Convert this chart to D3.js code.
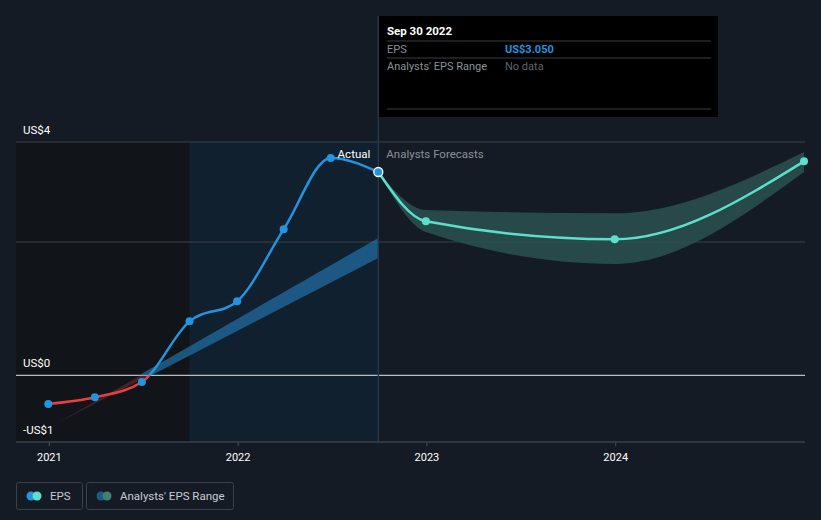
<!DOCTYPE html>
<html><head><meta charset="utf-8">
<script src="https://cdn.jsdelivr.net/npm/d3@7"></script>
<style>
html,body{margin:0;padding:0;background:#151b24;}
svg{display:block;font-family:Roboto,"Noto Sans",sans-serif;}
</style></head><body>
<svg id="chart" width="821" height="520"></svg>
<script>
// ---- data ----
const actualDates = ["2020-12-31","2021-03-31","2021-06-30","2021-09-30","2021-12-31","2022-03-31","2022-06-30","2022-09-30"];
const actualEPS   = [-0.43, -0.33, -0.10, 0.81, 1.11, 2.19, 3.26, 3.05];
const forecastDates = ["2022-09-30","2022-12-31","2023-12-31","2024-12-31"];
const forecastEPS   = [3.05, 2.31, 2.04, 3.21];
const forecastLow   = [3.05, 2.15, 1.67, 3.05];
const forecastHigh  = [3.05, 2.48, 2.43, 3.35];
const pastRangeDates = ["2020-12-31","2022-09-30"];
const pastRangeLow   = [-0.80, 1.76];
const pastRangeHigh  = [-0.78, 2.06];
const xTickYears = [2021, 2022, 2023, 2024];
const yTickValues = [3.5, 0, -1];
const yTickLabels = ["US$4", "US$0", "-US$1"];
const yGridValues = [3.5, 2, -1];

const parse = d3.timeParse("%Y-%m-%d");
const svg = d3.select("#chart");
const x = d3.scaleTime().domain([parse("2020-12-31"), parse("2024-12-31")]).range([48.3, 804]);
const y = d3.scaleLinear().domain([-1, 3.5]).range([442, 142]);
const L = 16, R = 805;

const actual = actualDates.map((d,i)=>({d:parse(d), v:actualEPS[i]}));
const fc = forecastDates.map((d,i)=>({d:parse(d), v:forecastEPS[i], lo:forecastLow[i], hi:forecastHigh[i]}));
const past = pastRangeDates.map((d,i)=>({d:parse(d), lo:pastRangeLow[i], hi:pastRangeHigh[i]}));

const defs = svg.append("defs");
const xSplit1 = x(parse("2021-09-30")), xNow = x(parse("2022-09-30"));

// shaded regions
svg.append("rect").attr("x",L).attr("y",y(3.5)).attr("width",xSplit1-L).attr("height",y(-1)-y(3.5)).attr("fill","#111419");
svg.append("rect").attr("x",xSplit1).attr("y",y(3.5)).attr("width",xNow-xSplit1).attr("height",y(-1)-y(3.5)).attr("fill","#10202f");

// gridlines
svg.selectAll(".grid").data(yGridValues).enter().append("line")
  .attr("x1",L).attr("x2",R).attr("y1",d=>y(d)).attr("y2",d=>y(d))
  .attr("stroke","#3a404a").attr("stroke-width",1);
svg.append("line").attr("x1",L).attr("x2",R).attr("y1",y(0)).attr("y2",y(0)).attr("stroke","#b8bcc2").attr("stroke-width",1.2);

// clip paths
defs.append("clipPath").attr("id","above").append("rect").attr("x",0).attr("y",0).attr("width",821).attr("height",y(0));
defs.append("clipPath").attr("id","below").append("rect").attr("x",0).attr("y",y(0)).attr("width",821).attr("height",520-y(0));
const rg = defs.append("linearGradient").attr("id","redfade").attr("x1","0").attr("x2","1").attr("y1","0").attr("y2","0");
rg.append("stop").attr("offset","0").attr("stop-color","#e84a4a").attr("stop-opacity",0.05);
rg.append("stop").attr("offset","1").attr("stop-color","#e84a4a").attr("stop-opacity",0.45);

// past analyst range wedge
const pastArea = d3.area().x(d=>x(d.d)).y0(d=>y(d.lo)).y1(d=>y(d.hi));
svg.append("path").datum(past).attr("d",pastArea).attr("fill","#2470a8").attr("opacity",0.7).attr("clip-path","url(#above)");
const redG = svg.append("g").attr("clip-path","url(#below)");
redG.append("path").datum(past).attr("d",d3.area().x(d=>x(d.d)).y0(d=>y(d.lo)-1).y1(d=>y(d.hi)+1)).attr("fill","url(#redfade)")
  .attr("transform",null);
redG.select("path").attr("fill","#e84a4a").attr("opacity",0.25);

// forecast range
const fArea = d3.area().x(d=>x(d.d)).y0(d=>y(d.lo)).y1(d=>y(d.hi)).curve(d3.curveMonotoneX);
svg.append("path").datum(fc).attr("d",fArea).attr("fill","#2c5150").attr("opacity",0.85);

// vertical now line
svg.append("line").attr("x1",xNow).attr("x2",xNow).attr("y1",16).attr("y2",442).attr("stroke","#24374a").attr("stroke-width",1.5);

// EPS actual line
const line = d3.line().x(d=>x(d.d)).y(d=>y(d.v)).curve(d3.curveMonotoneX);
svg.append("path").datum(actual).attr("d",line).attr("fill","none").attr("stroke","#2394df").attr("stroke-width",2.5).attr("clip-path","url(#above)");
svg.append("path").datum(actual).attr("d",line).attr("fill","none").attr("stroke","#e8403f").attr("stroke-width",2.5).attr("clip-path","url(#below)");

// forecast line
svg.append("path").datum(fc).attr("d",line).attr("fill","none").attr("stroke","#5ce0cb").attr("stroke-width",2.5);

// points
svg.selectAll(".ap").data(actual.slice(0,-1)).enter().append("circle")
  .attr("cx",d=>x(d.d)).attr("cy",d=>y(d.v)).attr("r",4).attr("fill","#2394df");
svg.selectAll(".fp").data(fc.slice(1)).enter().append("circle")
  .attr("cx",d=>x(d.d)).attr("cy",d=>y(d.v)).attr("r",4).attr("fill","#5ce0cb");
const last = actual[actual.length-1];
svg.append("circle").attr("cx",x(last.d)).attr("cy",y(last.v)).attr("r",4.5).attr("fill","#2394df").attr("stroke","#ffffff").attr("stroke-width",1.3);

// labels Actual / Analysts Forecasts
svg.append("text").attr("x",xNow-8).attr("y",158).attr("text-anchor","end").attr("fill","#ffffff").attr("font-size",11.5).text("Actual");
svg.append("text").attr("x",xNow+8).attr("y",158).attr("fill","#8a9099").attr("font-size",11.5).text("Analysts Forecasts");

// y labels
svg.selectAll(".yl").data(yTickValues).enter().append("text")
  .attr("x",23).attr("y",d=>y(d)-8).attr("fill","#ffffff").attr("font-size",11.5)
  .text((d,i)=>yTickLabels[i]);

// x axis
const xAxis = d3.axisBottom(x).tickValues(xTickYears.map(yv=>new Date(yv,0,1))).tickFormat(d3.timeFormat("%Y")).tickSize(4).tickSizeOuter(0);
const gx = svg.append("g").attr("transform",`translate(0,${y(-1)})`).call(xAxis);
gx.select(".domain").remove();
gx.selectAll(".tick line").attr("stroke","#4a505a");
gx.selectAll(".tick text").attr("fill","#ffffff").attr("font-size",11).attr("dy","1.1em").attr("font-family","Roboto,sans-serif");
svg.append("line").attr("x1",L).attr("x2",R).attr("y1",y(-1)).attr("y2",y(-1)).attr("stroke","#3a404a");

// tooltip
const tt = svg.append("g").attr("transform","translate(379,16)");
tt.append("rect").attr("width",339).attr("height",101).attr("fill","#000000");
tt.append("text").attr("x",8).attr("y",19).attr("fill","#ffffff").attr("font-size",11.5).attr("font-weight","bold").text("Sep 30 2022");
[25,42,93].forEach(yy=>tt.append("line").attr("x1",8).attr("x2",332).attr("y1",yy).attr("y2",yy).attr("stroke","#3a3d42"));
tt.append("text").attr("x",8).attr("y",37).attr("fill","#8a9099").attr("font-size",11).text("EPS");
tt.append("text").attr("x",126).attr("y",37).attr("fill","#2394df").attr("font-size",11).attr("font-weight","bold").text("US$3.050");
tt.append("text").attr("x",8).attr("y",54).attr("fill","#8a9099").attr("font-size",11).text("Analysts' EPS Range");
tt.append("text").attr("x",126).attr("y",54).attr("fill","#5d636b").attr("font-size",11).text("No data");

// legend
const lg = svg.append("g");
const items = [{x:16,w:66,label:"EPS",c1:"#2394df",c2:"#5ce0cb"},{x:86,w:147,label:"Analysts' EPS Range",c1:"#1f5a85",c2:"#3c8278"}];
items.forEach(it=>{
  lg.append("rect").attr("x",it.x+0.5).attr("y",482.5).attr("width",it.w).attr("height",27).attr("rx",2).attr("fill","none").attr("stroke","#3b4049");
  lg.append("circle").attr("cx",it.x+15).attr("cy",496).attr("r",4.5).attr("fill",it.c1);
  lg.append("circle").attr("cx",it.x+21).attr("cy",496).attr("r",4.5).attr("fill",it.c2);
  lg.append("text").attr("x",it.x+34).attr("y",500).attr("fill","#c8ccd2").attr("font-size",11.5).text(it.label);
});
</script>
</body></html>
